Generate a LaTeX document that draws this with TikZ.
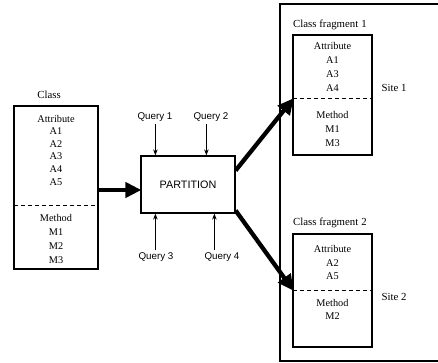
\documentclass[tikz,border=0pt]{standalone}
\usepackage{fontspec}
\setmainfont{Liberation Serif}
\newfontfamily\qfont{Liberation Sans}
\usetikzlibrary{arrows.meta}
\tikzset{
  box/.style={draw, line width=1.3pt, minimum width=#1, inner sep=0pt},
  serif/.style={font=\fontsize{10.3}{12.6}\selectfont, align=center, inner sep=0pt},
  title/.style={font=\fontsize{10.8}{13}\selectfont, inner sep=0pt},
  sans/.style={font=\qfont\fontsize{9.8}{11}\selectfont, inner sep=0pt},
  divider/.style={dashed, line width=1pt, dash pattern=on 4pt off 3pt},
  bigarrow/.style={line width=4.3pt, -{Triangle[length=16pt,width=15pt]}, shorten >=-1pt},
  qarrow/.style={line width=0.8pt, -{Stealth[length=6pt,width=4.5pt]}},
}
\begin{document}
\begin{tikzpicture}[x=1pt,y=-1pt]
\useasboundingbox (0,0) rectangle (438,363);
% Class
\node[box=84pt, minimum height=163pt] (cls) at (56,187.5) {};
\node[title] (clstitle) at (49,95) {Class};
\draw[divider] (14,205) coordinate (clsdl) -- (98,205) coordinate (clsdr);
\node[serif, font=\fontsize{10.3}{12.6}\selectfont] (clsattr) at (56,150) {Attribute\\A1\\A2\\A3\\A4\\A5};
\node[serif, font=\fontsize{10.3}{14}\selectfont] (clsmeth) at (56,238.5) {Method\\M1\\M2\\M3};
% Partition
\node[box=94pt, minimum height=57pt, line width=1.2pt, font=\qfont\fontsize{10.8}{12}\selectfont] (part) at (188,184.5) {PARTITION};
\node[sans] (q1) at (155,117) {Query 1};
\node[sans] (q2) at (211,117) {Query 2};
\node[sans] (q3) at (156,257) {Query 3};
\node[sans] (q4) at (222,257) {Query 4};
\draw[qarrow] (q1.south -| part.west) ++(15,2) coordinate (q1s) -- (q1s |- part.north);
\draw[qarrow] (q2.south -| part.west) ++(66,2) coordinate (q2s) -- (q2s |- part.north);
\draw[qarrow] (q3.north -| part.west) ++(15,-2) coordinate (q3s) -- (q3s |- part.south);
\draw[qarrow] (q4.north -| part.west) ++(74,-2) coordinate (q4s) -- (q4s |- part.south);
% Site box
\draw[line width=1.3pt] (439,4) -- (280,4) -- (280,361) -- (439,361);
% Fragment 1
\node[title, anchor=west] (f1title) at (293,25) {Class fragment\hspace{3pt}1};
\node[box=79pt, minimum height=120pt] (f1) at (332.5,95) {};
\draw[divider] (293,99) coordinate (f1dl) -- (372,99) coordinate (f1dr);
\node[serif, font=\fontsize{10.3}{14}\selectfont] (f1attr) at (332.5,67) {Attribute\\A1\\A3\\A4};
\node[serif, font=\fontsize{10.3}{14}\selectfont] (f1meth) at (332.5,129) {Method\\M1\\M3};
\node[title] (site1) at (394,88) {Site 1};
% Fragment 2
\node[title, anchor=west] (f2title) at (293,223) {Class fragment\hspace{3pt}2};
\node[box=79pt, minimum height=113pt] (f2) at (332.5,290.5) {};
\draw[divider] (293,290) coordinate (f2dl) -- (372,290) coordinate (f2dr);
\node[serif, font=\fontsize{10.3}{13.5}\selectfont] (f2attr) at (332.5,262.5) {Attribute\\A2\\A5};
\node[serif, font=\fontsize{10.3}{13.5}\selectfont] (f2meth) at (332.5,309.5) {Method\\M2};
\node[title] (site2) at (394,297) {Site 2};
% Thick arrows
\draw[bigarrow] (cls.east |- 0,190) -- (part.west |- 0,190);
\draw[bigarrow] (part.east) ++(0,-14) coordinate (a1s) -- (f1dl);
\draw[bigarrow] (part.east) ++(0,26) coordinate (a2s) -- (f2dl);
\end{tikzpicture}
\end{document}
